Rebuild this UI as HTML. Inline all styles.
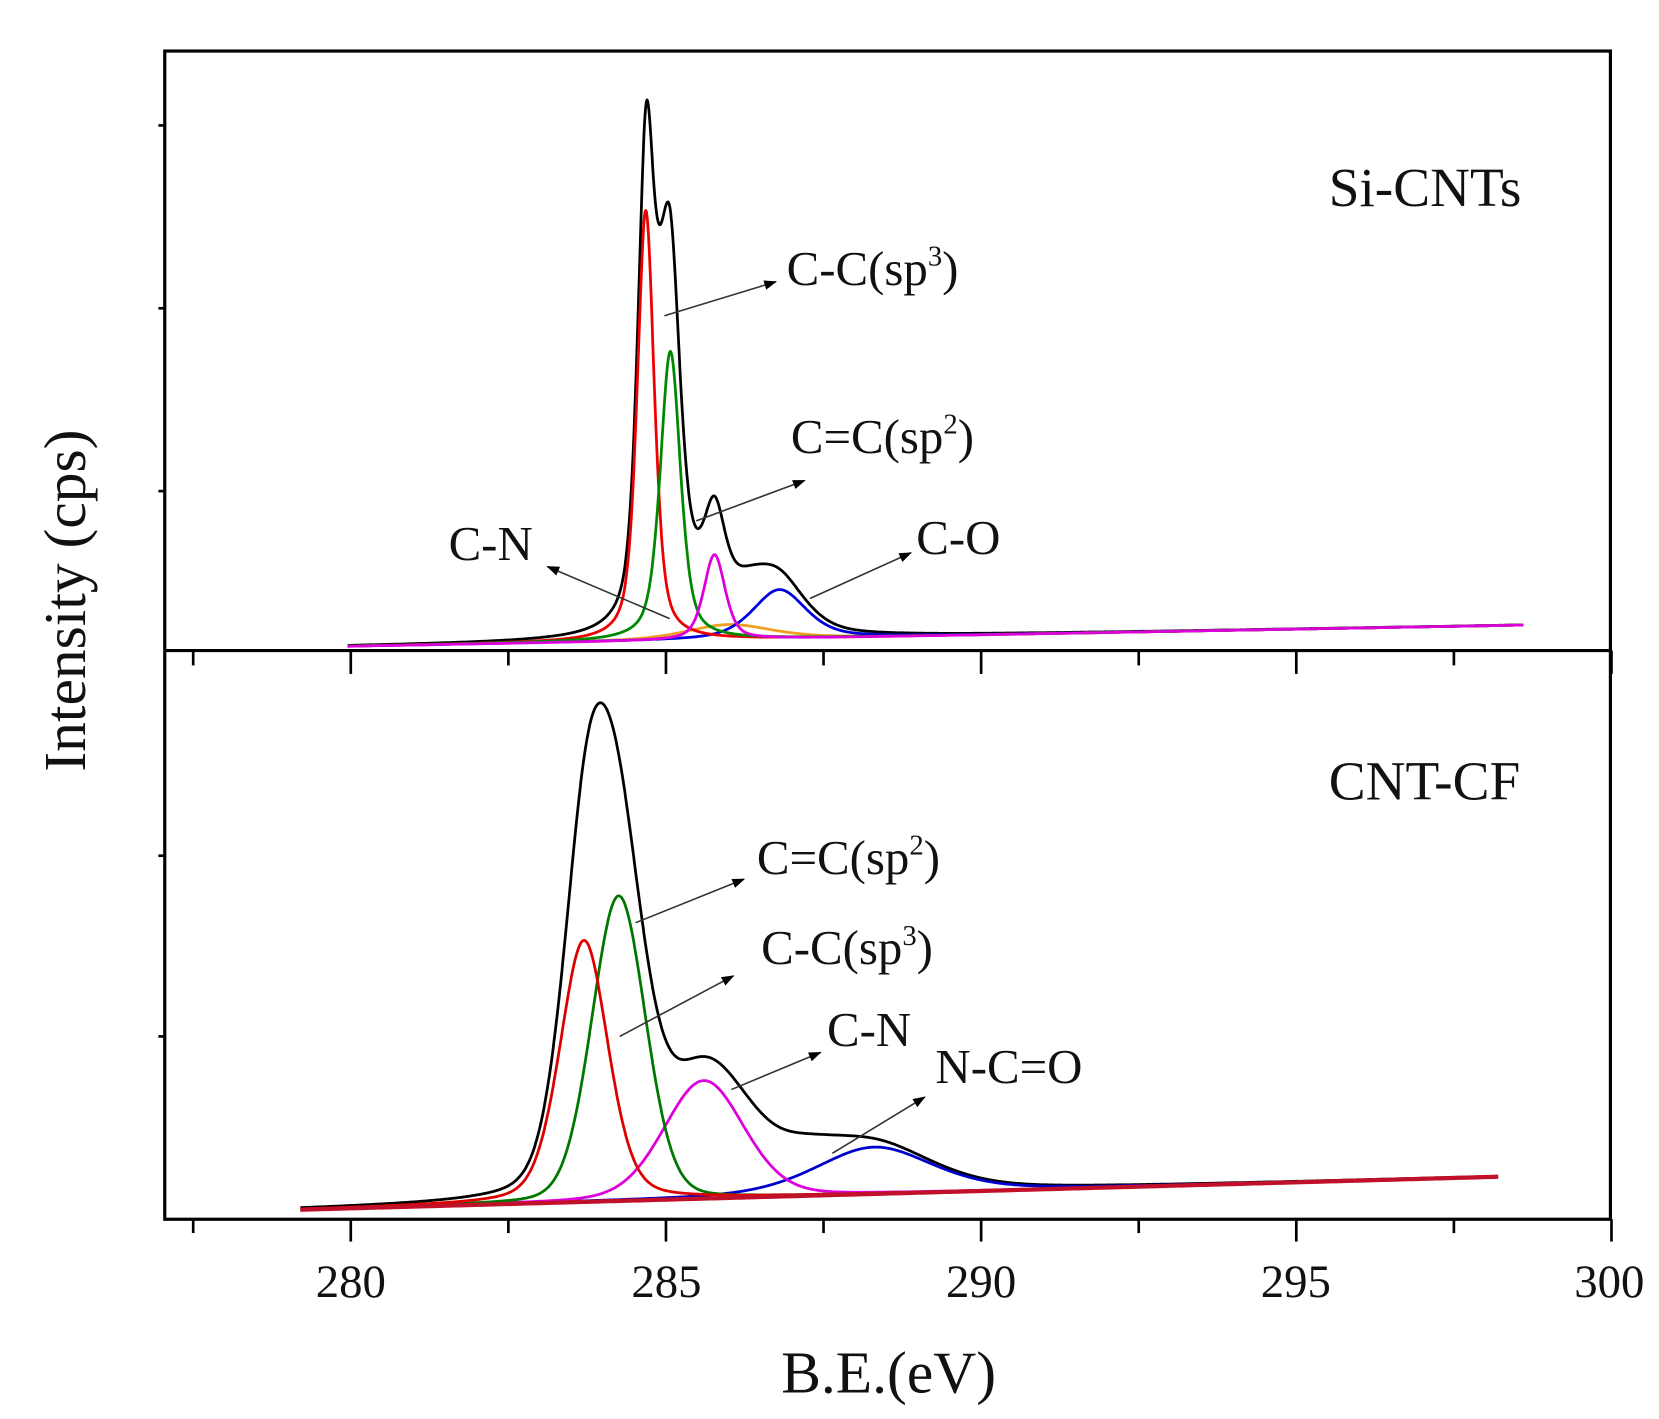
<!DOCTYPE html>
<html><head><meta charset="utf-8"><style>
html,body{margin:0;padding:0;background:#fff;}
svg{display:block;}
text{font-family:"Liberation Serif",serif;fill:#111;}
</style></head><body>
<svg id="s" width="1659" height="1419" viewBox="0 0 1560.7 1334.9" xmlns="http://www.w3.org/2000/svg">
<defs><marker id="ah" markerWidth="12" markerHeight="9" refX="11" refY="4.5" orient="auto" markerUnits="userSpaceOnUse"><path d="M0,0 L12,4.5 L0,9 z" fill="#000"/></marker></defs>
<g id="curves" fill="none" stroke-width="2.6" stroke-linejoin="round"></g>
<rect x="155" y="48" width="1360" height="1099" fill="none" stroke="#000" stroke-width="3"/>
<line x1="155" y1="612" x2="1515" y2="612" stroke="#000" stroke-width="3"/>
<g id="ticks" stroke="#000" stroke-width="2.5"></g>
<g font-size="44" text-anchor="middle">
<text x="330" y="1220">280</text><text x="627" y="1220">285</text><text x="923" y="1220">290</text><text x="1219" y="1220">295</text><text x="1514" y="1220">300</text>
</g>
<text x="836" y="1310" font-size="56" text-anchor="middle">B.E.(eV)</text>
<text transform="translate(80,565) rotate(-90)" font-size="56" text-anchor="middle">Intensity (cps)</text>
<g font-size="52">
<text x="1250" y="194">Si-CNTs</text>
<text x="1250" y="752">CNT-CF</text>
</g>
<g font-size="46">
<text x="740" y="268">C-C(sp<tspan font-size="27" dy="-18">3</tspan><tspan dy="18">)</tspan></text>
<text x="744" y="426">C=C(sp<tspan font-size="27" dy="-18">2</tspan><tspan dy="18">)</tspan></text>
<text x="422" y="527">C-N</text>
<text x="862" y="521">C-O</text>
<text x="712" y="822">C=C(sp<tspan font-size="27" dy="-18">2</tspan><tspan dy="18">)</tspan></text>
<text x="716" y="907">C-C(sp<tspan font-size="27" dy="-18">3</tspan><tspan dy="18">)</tspan></text>
<text x="778" y="984">C-N</text>
<text x="880" y="1019">N-C=O</text>
</g>
<g stroke="#333" stroke-width="1.5" marker-end="url(#ah)">
<line x1="625" y1="297" x2="730" y2="265"/>
<line x1="655" y1="490" x2="757" y2="452"/>
<line x1="630" y1="582" x2="515" y2="533"/>
<line x1="762" y1="563" x2="857" y2="520"/>
<line x1="598" y1="868" x2="700" y2="827"/>
<line x1="583" y1="975" x2="690" y2="918"/>
<line x1="688" y1="1025" x2="772" y2="990"/>
<line x1="783" y1="1085" x2="870" y2="1032"/>
</g>
</svg>
<script>
var X=function(e){return 330+(e-280)*59.3;};
function pv(e,c,h,w,m){var d=(e-c)/(w/2);return h*(m/(1+d*d)+(1-m)*Math.exp(-Math.LN2*d*d));}
var g=document.getElementById('curves'),NS='http://www.w3.org/2000/svg';
function draw(e0,e1,bg,comps,colOrder){
 var paths={};comps.forEach(function(c){if(c.col)paths[c.col]='';});var tot='';var bgp='';
 for(var e=e0;e<=e1+1e-9;e+=0.01){var b=bg(e),s=0;
  comps.forEach(function(c){var v=pv(e,c.c,c.h,c.w,c.m);s+=v;if(c.col)paths[c.col]+=(paths[c.col]?'L':'M')+X(e).toFixed(1)+','+(b-v).toFixed(1);});
  tot+=(tot?'L':'M')+X(e).toFixed(1)+','+(b-s).toFixed(1);bgp+=(bgp?'L':'M')+X(e).toFixed(1)+','+b.toFixed(1);}
 function add(d,col){var p=document.createElementNS(NS,'path');p.setAttribute('d',d);p.setAttribute('stroke',col);g.appendChild(p);}
 add(tot,'#000');colOrder.forEach(function(c){add(paths[c],c);});return bgp;
}
draw(279.95,298.6,function(e){return 608-20*(e-279.95)/18.65;},[
 {c:286.0,h:14,w:1.6,m:0.5,col:'#f0a020'},
 {c:286.8,h:46,w:1.0,m:0.5,col:'#0000dd'},
 {c:284.68,h:405,w:0.32,m:0.55,col:'#ee0000'},
 {c:285.07,h:272,w:0.38,m:0.55,col:'#008800'},
 {c:285.77,h:80,w:0.4,m:0.5,col:'#dd00dd'},
 {c:284.7,h:15,w:0.15,m:0.3},
 {c:284.92,h:70,w:0.4,m:0.3},
 {c:285.0,h:30,w:0.6,m:0.3},
 {c:285.45,h:20,w:0.8,m:0.3},
 {c:286.3,h:20,w:0.8,m:0.3}
],['#f0a020','#0000dd','#ee0000','#008800','#dd00dd']);
var bgb=draw(279.2,298.2,function(e){return 1138-31*(e-279.2)/19;},[
 {c:288.3,h:44,w:2.2,m:0.4,col:'#0000cc'},
 {c:285.6,h:111,w:1.5,m:0.2,col:'#dd00dd'},
 {c:284.25,h:287,w:1.0,m:0.15,col:'#007700'},
 {c:283.7,h:246,w:0.9,m:0.3,col:'#dd0000'},
 {c:283.85,h:45,w:0.9,m:0.3},
 {c:286.3,h:15,w:1.3,m:0.3},
 {c:287.2,h:22,w:1.4,m:0.3}
],['#0000cc','#dd00dd','#007700','#dd0000']);
var p=document.createElementNS(NS,'path');p.setAttribute('d',bgb);p.setAttribute('stroke','#c0102a');p.setAttribute('stroke-width','4');g.appendChild(p);
var t=document.getElementById('ticks'),html='';
for(var e=277.5;e<=300.01;e+=2.5){var maj=Math.abs(e%5)<0.01;var x=X(e);
 html+='<line x1="'+x+'" y1="1147" x2="'+x+'" y2="'+(maj?1168:1160)+'"/>';
 html+='<line x1="'+x+'" y1="612" x2="'+x+'" y2="'+(maj?634:626)+'"/>';}
[118,290,462,805,975].forEach(function(y){html+='<line x1="155" y1="'+y+'" x2="149" y2="'+y+'"/>';});
t.innerHTML=html;
</script>
</body></html>
